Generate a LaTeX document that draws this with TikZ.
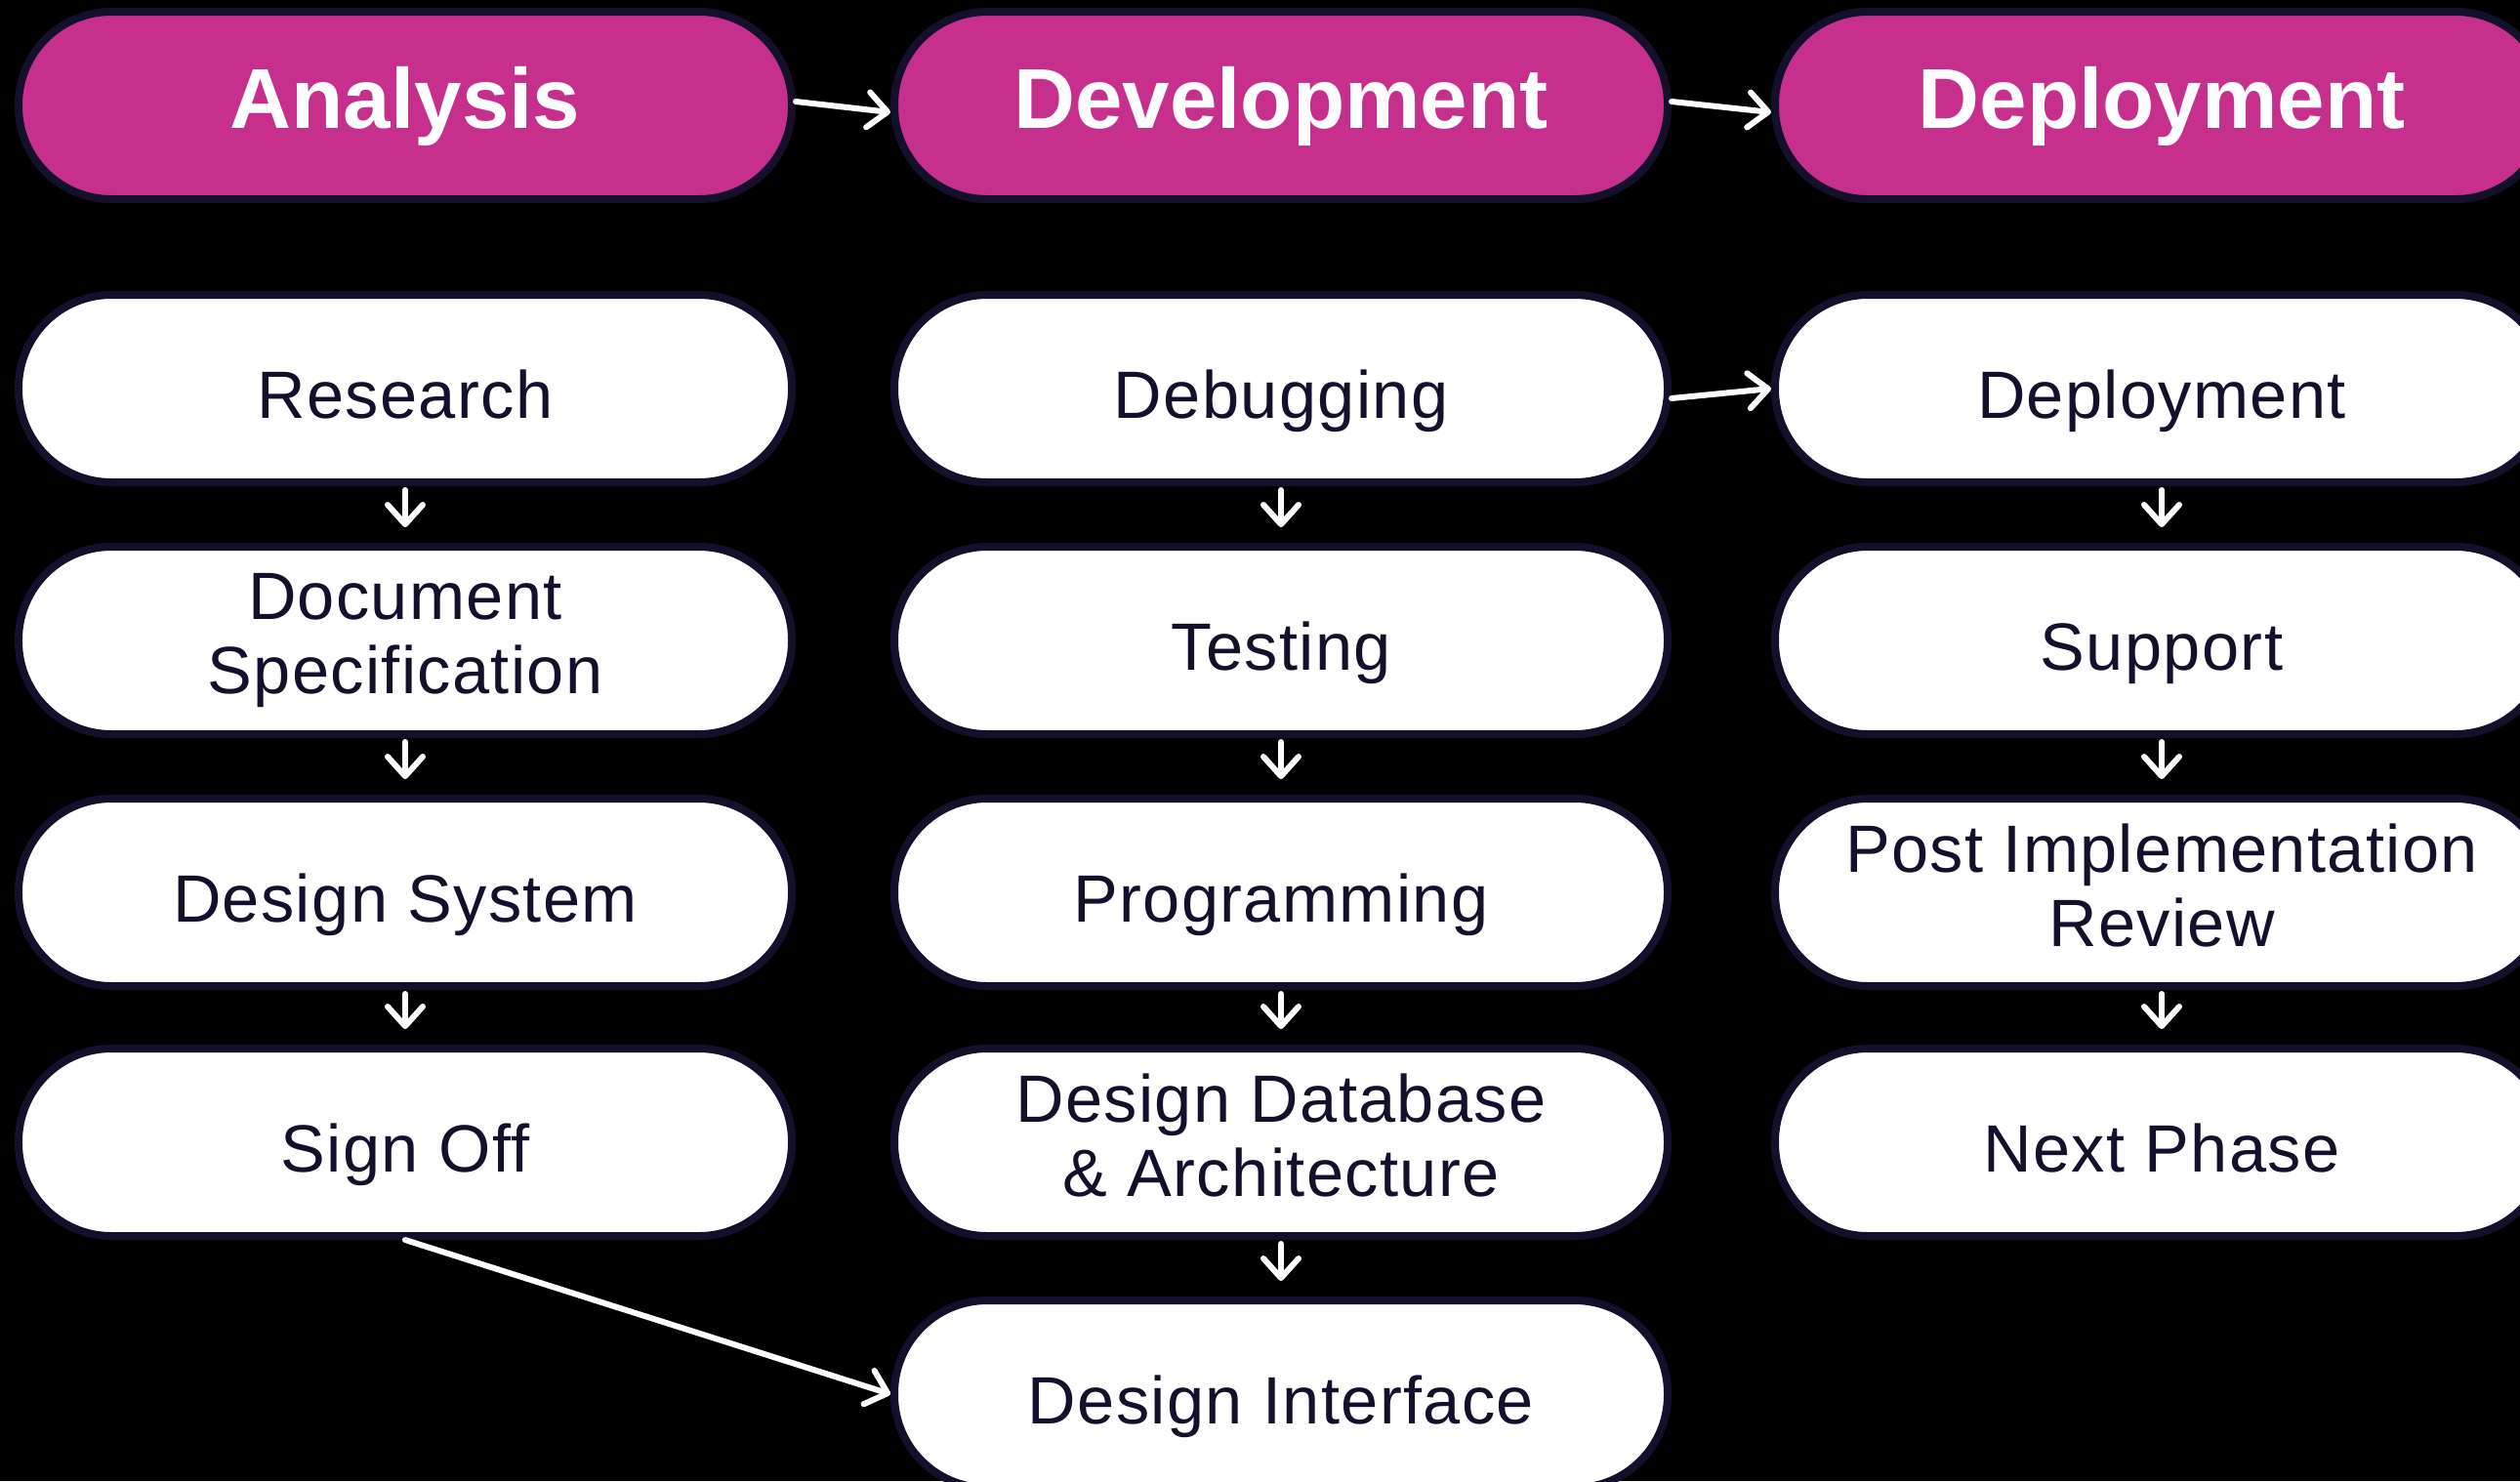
\documentclass[tikz,border=0pt]{standalone}
\usepackage{fontspec}
\setmainfont{Liberation Sans}
\usepackage{xcolor}
\usepackage{tikz}
\usetikzlibrary{arrows.meta,positioning,calc}

\definecolor{navy}{HTML}{14102C}
\definecolor{phase}{HTML}{C62F8C}

\newcommand{\topstrut}[2]{\rule[-#1]{0pt}{#2}}

\begin{document}
\begin{tikzpicture}[
    pill/.style={draw=navy, line width=0.08cm, rounded corners=0.95cm,
      minimum width=7.92cm, minimum height=1.92cm, inner sep=0pt, align=center},
    stage/.style={pill, fill=white, text=navy,
      font=\fontsize{19.5pt}{21.8pt}\selectfont\addfontfeature{LetterSpace=2},
      execute at begin node={\topstrut{0.21em}{1.3em}}},
    twoline/.style={execute at end node={\topstrut{0.21em}{0pt}}},
    phasebox/.style={pill, fill=phase, text=white,
      font=\fontsize{24.8pt}{28pt}\selectfont\bfseries,
      execute at begin node={\topstrut{0.21em}{0.95em}}},
    flow/.style={draw=white, line width=0.06cm, line cap=round,
      -{Straight Barb[round, length=0.2cm, width=0.36cm]}}
  ]
  \useasboundingbox [fill=black] (0,0) rectangle (25.81,-15.17);

  % phases
  \node [phasebox] (an)  at (4.15, -1.08)  {Analysis};
  \node [phasebox] (dev) at (13.12, -1.08) {Development};
  \node [phasebox] (dep) at (22.14, -1.08) {Deployment};

  % analysis steps
  \node [stage] (research) at (4.15, -3.98)  {Research};
  \node [stage, twoline] (docspec)  at (4.15, -6.56)  {Document\\Specification};
  \node [stage] (dsystem)  at (4.15, -9.14)  {Design System};
  \node [stage] (signoff)  at (4.15, -11.70) {Sign Off};

  % development steps
  \node [stage] (debug)    at (13.12, -3.98)  {Debugging};
  \node [stage] (testing)  at (13.12, -6.56)  {Testing};
  \node [stage] (program)  at (13.12, -9.14)  {Programming};
  \node [stage, twoline] (dbarch)   at (13.12, -11.70) {Design Database\\\& Architecture};
  \node [stage] (dinter)   at (13.12, -14.28) {Design Interface};

  % deployment steps
  \node [stage] (deploy)   at (22.14, -3.98)  {Deployment};
  \node [stage] (support)  at (22.14, -6.56)  {Support};
  \node [stage, twoline] (review)   at (22.14, -9.14)  {Post Implementation\\Review};
  \node [stage] (nextph)   at (22.14, -11.70) {Next Phase};

  % connectors
  \draw [flow] ([yshift=0.04cm]an.east) -- ([yshift=-0.07cm]dev.west);
  \draw [flow] ([yshift=0.04cm]dev.east) -- ([yshift=-0.07cm]dep.west);
  \draw [flow] ([yshift=-0.1cm]debug.east) -- (deploy.west);
  \foreach \a/\b in {research/docspec, docspec/dsystem, dsystem/signoff,
                     debug/testing, testing/program, program/dbarch, dbarch/dinter,
                     deploy/support, support/review, review/nextph}
    \draw [flow] ([yshift=-0.04cm]\a.south) -- ([yshift=0.16cm]\b.north);
  \draw [flow] (signoff.south) -- (dinter.west);
\end{tikzpicture}
\end{document}
